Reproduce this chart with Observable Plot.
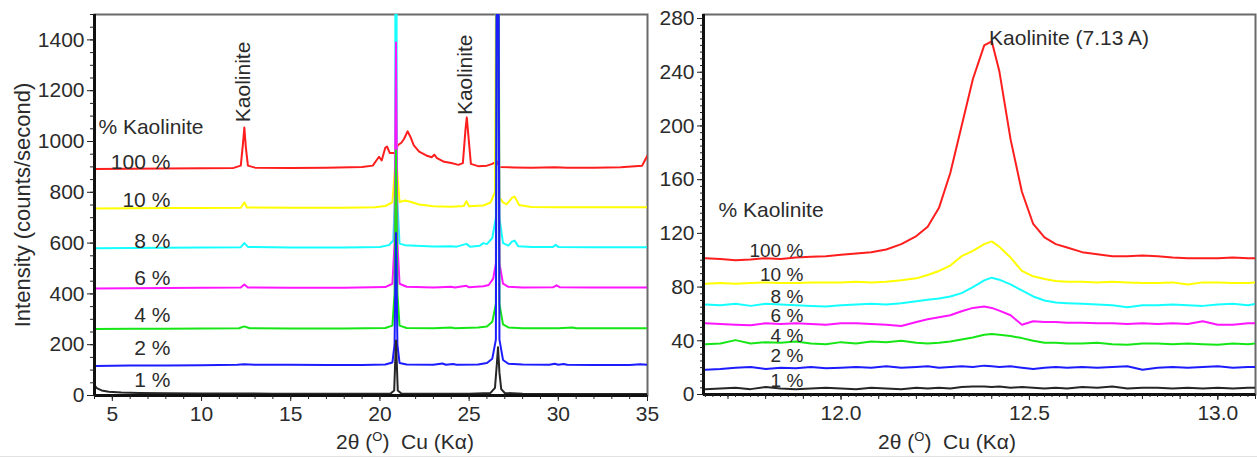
<!DOCTYPE html>
<html>
<head>
<meta charset="utf-8">
<script src="https://cdn.jsdelivr.net/npm/d3@7"></script>
<script src="https://cdn.jsdelivr.net/npm/@observablehq/plot@0.6"></script>
<style>
  body { margin: 0; background: #fff; }
  #wrap { position: relative; width: 1257px; height: 458px; overflow: hidden; }
  #wrap > svg { position: absolute; top: 0; }
  #edge { position: absolute; left: 0; top: 456px; width: 1257px; height: 1px; background: #e2e2e2; }
</style>
</head>
<body>
<div id="wrap"><div id="edge"></div></div>
<script>
// ---------- Full scans, 2θ 4–35°, intensity in counts/second (stacked) ----------
const scan1pct = [[4.0,40],[4.15,28],[4.4,20],[4.8,15],[5.5,12],[6.5,10],[8,9],[10,8],[12,8],[14,7],[16,7],[18,7],[20,7],[20.6,8],[20.8,20],[20.9,217],[21.0,20],[21.2,8],[23,7],[25,7],[26.2,10],[26.45,30],[26.55,120],[26.62,190],[26.7,90],[26.8,25],[27.0,10],[28,7],[30,6],[32,6],[35,6]];
const scan2pct = [[4.0,116],[5,117],[6,118],[8,118],[10,119],[12,121],[12.4,123],[13,121],[15,121],[17,120],[19,120],[20.3,122],[20.7,130],[20.82,200],[20.9,640],[20.98,200],[21.1,128],[21.5,122],[23,121],[23.5,126],[23.7,121],[24.1,124],[24.3,121],[25.5,122],[26.0,128],[26.3,145],[26.5,220],[26.6,3000],[26.7,220],[26.9,140],[27.2,125],[28,122],[29.5,121],[29.8,125],[30.0,121],[30.3,124],[30.5,121],[32,120],[34,120],[34.6,123],[35,121]];
const scan4pct = [[4,262],[6,263],[8,263],[10,264],[12.1,265],[12.4,272],[12.7,265],[15,264],[18,264],[20.3,266],[20.7,275],[20.82,400],[20.9,966],[20.98,400],[21.1,275],[21.5,266],[23,265],[24,268],[24.2,265],[25.5,268],[26.0,272],[26.3,290],[26.5,360],[26.6,3000],[26.7,360],[26.9,280],[27.2,268],[28,265],[30,265],[30.8,268],[31,265],[35,265]];
const scan6pct = [[4,421],[6,422],[8,423],[10,424],[12.2,425],[12.4,437],[12.6,425],[15,424],[18,424],[20.3,427],[20.7,440],[20.82,600],[20.9,1390],[20.98,600],[21.1,440],[21.5,428],[23,425],[24,428],[24.2,425],[24.85,432],[25.0,426],[25.8,430],[26.1,435],[26.35,460],[26.5,520],[26.6,3000],[26.7,520],[26.9,440],[27.2,428],[28,425],[29.7,426],[29.9,434],[30.1,426],[32,425],[35,425]];
const scan8pct = [[4,580],[6,581],[8,582],[10,583],[12.2,584],[12.4,600],[12.6,585],[15,583],[18,583],[20.0,585],[20.5,592],[20.75,610],[20.85,800],[20.9,3000],[20.95,800],[21.1,598],[21.4,592],[22,590],[23,587],[24,588],[24.3,586],[24.85,597],[25.05,586],[25.6,590],[25.8,600],[26.0,596],[26.3,620],[26.5,700],[26.6,3000],[26.7,700],[26.9,600],[27.2,590],[27.4,606],[27.55,610],[27.75,588],[28.5,585],[29.7,585],[29.85,593],[30.0,585],[32,584],[35,584]];
const scan10pct = [[4,736],[6,737],[8,738],[10,738],[12.2,739],[12.4,760],[12.55,740],[15,739],[18,739],[19.7,741],[20.3,746],[20.7,760],[20.85,900],[20.9,1300],[20.95,900],[21.1,762],[21.4,768],[21.6,765],[22.2,752],[23,745],[24,743],[24.7,746],[24.85,765],[25.0,745],[25.8,748],[26.2,760],[26.45,800],[26.6,3000],[26.7,780],[26.9,760],[27.1,752],[27.4,778],[27.55,783],[27.8,750],[28.5,742],[30,741],[32,741],[35,741]];
const scan100pct = [[4,892],[6,893],[8,894],[10,895],[11.8,896],[12.2,905],[12.32,990],[12.4,1055],[12.48,980],[12.6,905],[13,897],[15,896],[17,897],[19,900],[19.6,905],[19.85,930],[19.95,940],[20.1,925],[20.3,975],[20.4,980],[20.55,955],[20.85,955],[21.0,985],[21.2,995],[21.35,1010],[21.55,1040],[21.7,1020],[21.9,985],[22.2,960],[22.6,945],[22.9,938],[23.05,948],[23.2,935],[23.6,920],[24.0,915],[24.4,908],[24.65,915],[24.8,1050],[24.87,1095],[24.95,1030],[25.1,912],[25.5,903],[26.0,905],[26.3,912],[26.55,922],[26.7,900],[27.5,898],[28.5,897],[29.8,899],[30.5,897],[32,897],[33.5,899],[34.7,905],[34.85,925],[35,945]];

// ---------- Detail of the 7.13 Å kaolinite reflection ----------
const detailTheta = [11.64,11.68,11.72,11.76,11.80,11.84,11.88,11.92,11.96,12.00,12.04,12.08,12.12,12.16,12.20,12.23,12.26,12.29,12.32,12.35,12.38,12.40,12.42,12.45,12.48,12.51,12.54,12.57,12.60,12.64,12.68,12.72,12.76,12.80,12.84,12.88,12.92,12.96,13.00,13.04,13.08,13.10];
const detail1pct = [4,4.5,5,4,5.5,4.5,4,4.5,5,4.5,4,5,4.5,4,5,4.5,5,4.5,5.5,6,6,5.5,6,5,5.5,5,4.5,5,4.5,5.5,5,6,4.5,5,5,4.5,5,4.5,5,4.5,5,5];
const detail2pct = [18.5,19,20,20.5,19,20,19.5,20.5,19.5,20,20.5,20,21,20,20.5,21,20,20.5,21,20.5,21.5,21,20.5,21,20,19,20,20.5,20,20.5,20,20.5,21,18.5,20,20.5,20,20.5,21,20,20.5,20.5];
const detail4pct = [37.5,38,40.5,38,39,38.5,39.5,38,37.5,39,38,39.5,39,40,38.5,38,38.5,39.5,41,42.5,44.5,45,44.5,43.5,42,40,38.5,38.5,38,38,38.5,37.5,37,38,38,37.5,38,37.5,37,38,37.5,38];
const detail6pct = [53,52.5,52,51.5,53,52.5,53,52.5,52,53,53,52.5,52,51,54,56,57.5,59,62,64.5,65.5,64.5,62.5,59,52,54.5,54,54,53.5,53.5,53,53,52.5,53,52.5,53,52.5,54.5,52,52,53,53];
const detail8pct = [67,66.5,67.5,66,67.5,67,66.5,66,65.5,66.5,67,67.5,67,68,69.5,70.5,71.5,73,75.5,80,85,87,85.5,82,77.5,73,70,68.5,68,67.5,67,66.5,65,66.5,66.5,67,66.5,66,67,67.5,66.5,67.5];
const detail10pct = [82.5,83,82.5,83,83.5,83,83,83.5,83.5,83.5,84,83.5,84,85,86.5,89,92,96,103,107,112,114,110,102,92,88,86,84.5,84,84,83.5,84,83.5,83,83,83.5,82,83.5,83.5,83,83,83.5];
const detail100pct = [101.5,101,100,100.5,101.5,101,102,102.5,103,104,105,106,108,112,118,125,139,165,200,235,260,263,241,190,151,127,117,112,109.5,106,104.5,103,103,103.5,103,102,101.5,101.5,101.5,102,101.5,101.5];

// ---------- Labels ----------
const levelLabels = ["1 %", "2 %", "4 %", "6 %", "8 %", "10 %", "100 %"];
const legendTitle = "% Kaolinite";
const peakLabel = "Kaolinite";
const detailPeakLabel = "Kaolinite (7.13 A)";
const yTitle = "Intensity (counts/second)";

// ---------- Styling ----------
const font = '"Liberation Sans", Arial, Helvetica, sans-serif';
const ink = "#2b2b2b";
const FS = 21;
const lineColors = ["#262626", "#1c1cff", "#16e616", "#ff16ff", "#16ffff", "#ffff00", "#ff1e1e"];
const fullScans = [scan1pct, scan2pct, scan4pct, scan6pct, scan8pct, scan10pct, scan100pct];
const detailScans = [detail1pct, detail2pct, detail4pct, detail6pct, detail8pct, detail10pct, detail100pct];

const wrap = document.getElementById("wrap");
const baseStyle = {fontFamily: font, fontSize: FS + "px", color: ink, background: "transparent", overflow: "visible"};
const noText = () => "";

// Full-range panel: 100 % drawn first so the low-kaolinite scans sit on top at the quartz reflections
const fullOrder = [6, 5, 4, 3, 2, 1, 0];
const leftLabelPos = [59, 185, 315, 461, 608, 769, 919];

const left = Plot.plot({
  width: 660, height: 458,
  marginLeft: 94, marginRight: 13, marginTop: 14, marginBottom: 63,
  style: baseStyle,
  x: {domain: [4, 35], label: null},
  y: {domain: [0, 1500], label: null},
  marks: [
    Plot.frame({stroke: "#6a6a6a", strokeWidth: 2}),
    ...fullOrder.map(i => Plot.line(fullScans[i], {x: d => d[0], y: d => d[1], stroke: lineColors[i], strokeWidth: 2, clip: true})),
    Plot.ruleX([4], {stroke: "#111", strokeWidth: 3}),
    Plot.ruleY([0], {stroke: "#111", strokeWidth: 3}),
    Plot.axisY(d3.range(0, 1501, 50), {tickSize: 4, tickFormat: noText, label: null, stroke: "#222"}),
    Plot.axisY(d3.range(0, 1401, 200), {tickSize: 7, tickPadding: 3, tickFormat: d3.format("d"), fontSize: FS, label: null, stroke: "#222"}),
    Plot.axisX(d3.range(4, 35.5, 1), {tickSize: 4, tickFormat: noText, label: null, stroke: "#222"}),
    Plot.axisX(d3.range(5, 36, 5), {tickSize: 6, tickPadding: 5, fontSize: FS, label: null, stroke: "#222"}),
    Plot.text([legendTitle], {x: 4.22, y: 1057, textAnchor: "start", fontSize: FS, fill: ink}),
    Plot.text(levelLabels, {x: 8.25, y: (d, i) => leftLabelPos[i], textAnchor: "end", fontSize: FS, fill: ink}),
    Plot.text([[12.35, 1076], [24.8, 1104]], {x: d => d[0], y: d => d[1], text: () => peakLabel, rotate: -90, textAnchor: "start", lineAnchor: "middle", fontSize: FS, fill: ink}),
    Plot.text([yTitle], {frameAnchor: "left", dx: -72, rotate: -90, textAnchor: "middle", lineAnchor: "middle", fontSize: FS + 1, fill: ink})
  ]
});

// Detail panel around 12.4° 2θ
const detailRows = (ys) => detailTheta.map((t, j) => ({t, v: ys[j]}));
const rightLabelPos = [10.4, 28.5, 44, 58.8, 73, 89, 107];

const right = Plot.plot({
  width: 597, height: 458,
  marginLeft: 43, marginRight: 2, marginTop: 14, marginBottom: 64,
  style: baseStyle,
  x: {domain: [11.635, 13.10], label: null},
  y: {domain: [0, 283], label: null},
  marks: [
    Plot.frame({stroke: "#6a6a6a", strokeWidth: 2}),
    ...detailScans.map((ys, i) => Plot.line(detailRows(ys), {x: "t", y: "v", stroke: lineColors[i], strokeWidth: 2, clip: true})),
    Plot.ruleX([11.635], {stroke: "#111", strokeWidth: 3}),
    Plot.ruleY([0], {stroke: "#111", strokeWidth: 3}),
    Plot.axisY(d3.range(0, 283, 5), {tickSize: 3, tickFormat: noText, label: null, stroke: "#222"}),
    Plot.axisY(d3.range(0, 281, 40), {tickSize: 6, tickPadding: 3, tickFormat: d3.format("d"), fontSize: FS, label: null, stroke: "#222"}),
    Plot.axisX(d3.range(0, 74).map(k => 11.64 + k * 0.02), {tickSize: 3, tickFormat: noText, label: null, stroke: "#222"}),
    Plot.axisX(d3.range(0, 15).map(k => 11.7 + k * 0.1), {tickSize: 5, tickFormat: noText, label: null, stroke: "#222"}),
    Plot.axisX([12.0, 12.5, 13.0], {tickSize: 6, tickPadding: 5, tickFormat: d3.format(".1f"), fontSize: FS, label: null, stroke: "#222"}),
    Plot.text([legendTitle], {x: 11.675, y: 137, textAnchor: "start", fontSize: FS, fill: ink}),
    Plot.text(levelLabels, {x: 11.9, y: (d, i) => rightLabelPos[i], textAnchor: "end", fontSize: 19, fill: ink}),
    Plot.text([detailPeakLabel], {x: 12.393, y: 265, textAnchor: "start", fontSize: FS, fill: ink})
  ]
});

left.style.left = "0px";
right.style.left = "660px";
wrap.appendChild(left);
wrap.appendChild(right);

// 2θ axis titles with a superscript degree "O"
function xTitle(svg, cx) {
  const t = d3.select(svg).append("text")
    .attr("x", cx).attr("y", 449)
    .attr("text-anchor", "middle")
    .attr("font-size", FS).attr("fill", ink)
    .style("white-space", "pre");
  t.append("tspan").text("2θ (");
  t.append("tspan").attr("font-size", 13).attr("dy", -8).text("O");
  t.append("tspan").attr("dy", 8).text(")  Cu (Kα)");
}
xTitle(left, 405);
xTitle(right, 287);
</script>
</body>
</html>
